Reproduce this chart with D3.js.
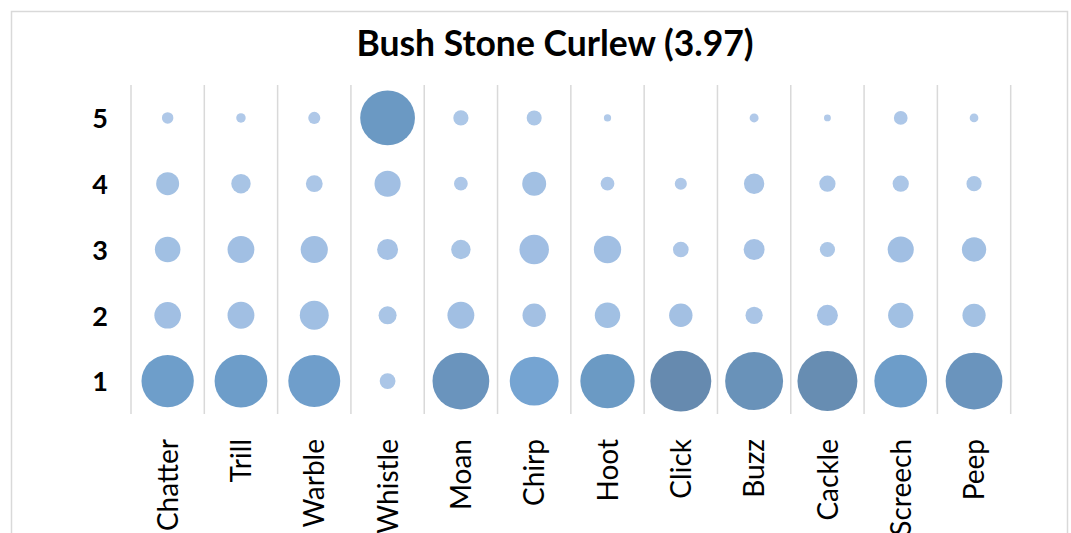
<!DOCTYPE html>
<html>
<head>
    <title>Bush Stone Curlew call ratings</title>
    <style>
        body {
            margin: 0;
            background-color: #ffffff;
        }
        .title {
            font-family: Lato, "Open Sans", sans-serif;
            font-weight: bold;
            font-size: 35.5px;
        }
        .y-label {
            font-family: Lato, "Open Sans", sans-serif;
            font-weight: bold;
            font-size: 27px;
        }
        .x-label {
            font-family: Lato, "Open Sans", sans-serif;
            font-size: 28px;
        }
    </style>
    <script src="https://d3js.org/d3.v7.min.js"></script>
</head>
<body>
    <div id="chart"></div>

    <script>
        // call types along the x axis
        var calls = ["Chatter", "Trill", "Warble", "Whistle", "Moan", "Chirp",
                     "Hoot", "Click", "Buzz", "Cackle", "Screech", "Peep"];

        // rating levels on the y axis
        var ratings = [1, 2, 3, 4, 5];

        // share of answers (%) for each call, one array per rating
        var rating1 = [58.1, 59.1, 57.3, 5.3, 68.4, 50.8, 62.7, 78.8, 71.3, 76.3, 59.1, 68.4];
        var rating2 = [15.0, 15.3, 17.8, 6.9, 15.3, 11.6, 13.7, 11.6, 6.3, 9.3, 13.5, 11.4];
        var rating3 = [13.9, 15.3, 15.7, 9.3, 8.0, 18.5, 15.9, 5.2, 9.3, 4.9, 14.5, 12.6];
        var rating4 = [11.2, 8.0, 6.0, 14.5, 4.0, 12.2, 4.0, 3.1, 8.8, 5.6, 5.6, 4.9];
        var rating5 = [2.8, 1.9, 3.1, 63.6, 4.9, 4.8, 1.1, 0, 1.7, 1.0, 4.0, 1.6];

        var chartTitle = "Bush Stone Curlew (3.97)";

        var byRating = { 1: rating1, 2: rating2, 3: rating3, 4: rating4, 5: rating5 };

        var points = [];
        ratings.forEach(function(r) {
            calls.forEach(function(c, i) {
                points.push({ call: c, rating: r, value: byRating[r][i] });
            });
        });

        var width = 1071;
        var height = 533;

        var svg = d3.select('#chart')
            .append('svg')
            .attr('width', width)
            .attr('height', height);

        svg.append('rect')
            .attr('width', width)
            .attr('height', height)
            .attr('fill', '#ffffff');

        // chart frame, runs off the bottom of the picture
        svg.append('rect')
            .attr('x', 11.5)
            .attr('y', 11.5)
            .attr('width', 1056)
            .attr('height', 560)
            .attr('fill', 'none')
            .attr('stroke', '#d9d9d9')
            .attr('stroke-width', 1.5);

        var x = d3.scaleBand()
            .domain(calls)
            .range([131, 1010.7]);

        var y = d3.scaleLinear()
            .domain([0.5, 5.5])
            .range([414, 85]);

        var r = d3.scaleSqrt()
            .domain([0, 80])
            .range([0, 30.7]);

        var color = d3.scaleLinear()
            .domain([0, 12, 20, 50, 60, 70, 80])
            .range(['#b3cbea', '#a2c0e3', '#9fbee3', '#76a5d3', '#6c9cc8', '#6a93bb', '#6689ad']);

        // vertical grid lines on the band edges
        var edges = calls.map(function(c) { return x(c); }).concat([x.range()[1]]);
        svg.append('g')
            .selectAll('line')
            .data(edges)
            .enter()
            .append('line')
            .attr('x1', function(d) { return d; })
            .attr('x2', function(d) { return d; })
            .attr('y1', y.range()[1])
            .attr('y2', y.range()[0])
            .attr('stroke', '#d9d9d9')
            .attr('stroke-width', 1.5);

        svg.append('g')
            .selectAll('circle')
            .data(points.filter(function(d) { return d.value > 0; }))
            .enter()
            .append('circle')
            .attr('cx', function(d) { return x(d.call) + x.bandwidth() / 2; })
            .attr('cy', function(d) { return y(d.rating); })
            .attr('r', function(d) { return r(d.value); })
            .style('fill', function(d) { return color(d.value); });

        // y axis, labels only
        var yAxis = svg.append('g')
            .attr('transform', 'translate(108,0)')
            .call(d3.axisLeft(y).tickValues(ratings).tickFormat(d3.format('d')).tickSize(0).tickPadding(0));
        yAxis.select('.domain').remove();
        yAxis.selectAll('text')
            .attr('class', 'y-label')
            .attr('fill', '#000000')
            .attr('dy', '0.36em');

        // x axis, rotated labels only
        var xAxis = svg.append('g')
            .attr('transform', 'translate(0,439)')
            .call(d3.axisBottom(x).tickSize(0).tickPadding(0));
        xAxis.select('.domain').remove();
        xAxis.selectAll('text')
            .attr('class', 'x-label')
            .attr('fill', '#000000')
            .attr('transform', 'rotate(-90)')
            .attr('x', 0)
            .attr('y', 0)
            .attr('dy', '0.36em')
            .style('text-anchor', 'end');

        svg.append('text')
            .attr('class', 'title')
            .attr('x', 555)
            .attr('y', 56)
            .style('text-anchor', 'middle')
            .text(chartTitle);
    </script>
</body>
</html>
